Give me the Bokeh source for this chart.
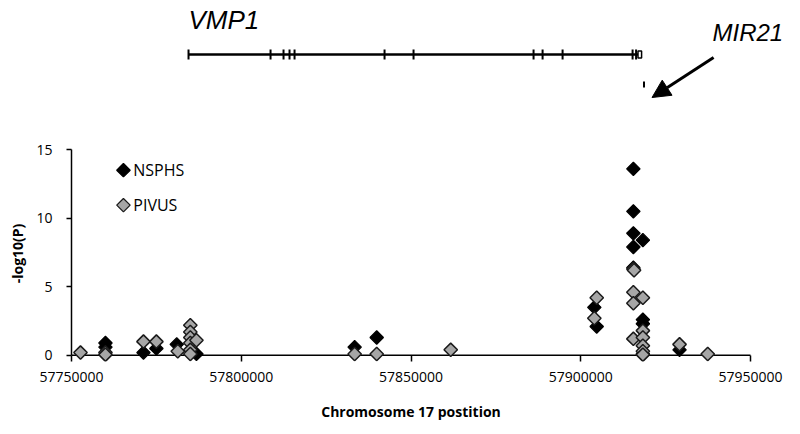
from bokeh.plotting import figure
from bokeh.layouts import column
from bokeh.models import Range1d, FixedTicker, NumeralTickFormatter, Arrow, NormalHead, Label
from bokeh.core.properties import value
from bokeh.embed import file_html
from bokeh.resources import INLINE
import numpy as np

# ---------------- data ----------------
nsphs_pos = [57760000, 57760000, 57771200, 57775000, 57781000, 57786800,
             57833400, 57839900, 57904000, 57904700,
             57915500, 57915500, 57915500, 57915500, 57915500,
             57918300, 57918300, 57918300, 57918300, 57929100]
nsphs_val = [0.9, 0.6, 0.2, 0.5, 0.8, 0.1,
             0.6, 1.3, 3.5, 2.1,
             13.6, 10.5, 8.9, 7.9, 6.4,
             8.4, 2.6, 2.3, 0.1, 0.4]

pivus_pos = [57752650, 57760000, 57760000, 57771200, 57775000, 57781300,
             57785000, 57785000, 57785000, 57785000, 57785000, 57785000, 57786800,
             57833400, 57839900, 57861700, 57904700, 57904000,
             57915500, 57915500, 57915500, 57915500, 57915700,
             57918300, 57918300, 57918300, 57918300, 57918300, 57918300,
             57929100, 57937400]
pivus_val = [0.2, 0.2, 0.05, 1.0, 1.0, 0.3,
             2.2, 1.7, 1.3, 0.9, 0.4, 0.1, 1.1,
             0.1, 0.1, 0.4, 4.2, 2.7,
             6.3, 4.6, 3.8, 1.2, 6.2,
             4.2, 1.8, 1.3, 0.7, 0.3, 0.05,
             0.8, 0.1]

series_names = ["NSPHS", "PIVUS"]
x_ticks = [57750000, 57800000, 57850000, 57900000, 57950000]
y_ticks = [0, 5, 10, 15]
x_title = "Chromosome 17 postition"
y_title = "-log10(P)"

# gene model (genomic coordinates)
vmp1_start = 57784470
vmp1_end = 57916860
vmp1_exons = [57784470, 57808630, 57812455, 57814220, 57815700, 57842210,
              57850750, 57886100, 57888760, 57894650, 57915270, 57916300]
vmp1_utr = [57916860, 57917920]
mir21_pos = 57918630

FONT = "Open Sans"
BLACK_FILL, GREY_FILL = "black", "#a6a6a6"

x_start, x_end = x_ticks[0], x_ticks[-1]
# frame runs 729 px (to the right edge); the axis itself spans 679 px
x_range = Range1d(x_start, x_start + (x_end - x_start) * 729 / 679)


def bare(fig):
    fig.axis.visible = False
    fig.grid.visible = False
    fig.outline_line_color = None


# ---------------- gene track ----------------
top = figure(width=800, height=130, x_range=x_range, y_range=Range1d(0, 130),
             output_backend="svg", toolbar_location=None,
             min_border_left=71, min_border_right=0, min_border_top=0, min_border_bottom=0)
bare(top)

row_y = 76
top.segment(x0=[vmp1_start], y0=[row_y], x1=[vmp1_end], y1=[row_y], line_color="black", line_width=2.5)
top.segment(x0=vmp1_exons, y0=[row_y - 5] * len(vmp1_exons), x1=vmp1_exons,
            y1=[row_y + 5] * len(vmp1_exons), line_color="black", line_width=2)
top.quad(left=[vmp1_utr[0]], right=[vmp1_utr[1]], bottom=[row_y - 3.5], top=[row_y + 3.5],
         fill_color="white", line_color="black", line_width=1.5)
top.segment(x0=[mir21_pos], y0=[43], x1=[mir21_pos], y1=[49], line_color="black", line_width=2)

top.add_layout(Label(x=vmp1_start, y=111, text="VMP1", text_font="Liberation Sans",
                     text_font_size="26px", text_font_style="italic", text_baseline="middle",
                     text_align="left", text_color="black"))
top.add_layout(Label(x=57938800, y=98, text="MIR21", text_font="Liberation Sans",
                     text_font_size="24px", text_font_style="italic", text_baseline="middle",
                     text_align="left", text_color="black"))
top.add_layout(Arrow(x_start=57939130, y_start=73, x_end=57921000, y_end=33,
                     line_color="black", line_width=3,
                     end=NormalHead(size=18, fill_color="black", line_color="black")))

# ---------------- scatter ----------------
p = figure(width=800, height=265, x_range=x_range, y_range=Range1d(-0.45, 15.3),
           output_backend="svg", toolbar_location=None,
           min_border_left=71, min_border_right=0, min_border_top=15, min_border_bottom=34)
p.grid.visible = False
p.outline_line_color = None

# x axis line at y = 0
p.segment(x0=[x_start], y0=[0], x1=[x_end], y1=[0], line_color="black", line_width=1.5)

p.scatter(nsphs_pos, nsphs_val, marker="square", angle=np.pi / 4, size=9.5,
          fill_color=BLACK_FILL, line_color="black", line_width=1.2)
p.scatter(pivus_pos, pivus_val, marker="square", angle=np.pi / 4, size=9.5,
          fill_color=GREY_FILL, line_color="#1a1a1a", line_width=1.5)

# legend (drawn by hand so markers match the rotated squares)
leg_x = 57765300
leg_y = [13.5, 10.95]
p.scatter([leg_x, leg_x], leg_y, marker="square", angle=np.pi / 4, size=9.5,
          fill_color=[BLACK_FILL, GREY_FILL], line_color=["black", "#1a1a1a"], line_width=1.3)
p.text(x=[leg_x + 2900] * 2, y=leg_y, text=series_names, text_font=value(FONT),
       text_font_size="16px", text_baseline="middle", text_align="left", text_color="black")

p.xaxis.ticker = FixedTicker(ticks=x_ticks)
p.xaxis.formatter = NumeralTickFormatter(format="0")
p.xaxis.bounds = (x_start, x_end)
p.yaxis.ticker = FixedTicker(ticks=y_ticks)
p.yaxis.bounds = (y_ticks[0], y_ticks[-1])
for ax in (p.xaxis[0], p.yaxis[0]):
    ax.axis_line_color = "black"
    ax.axis_line_width = 1.5
    ax.major_tick_line_color = "black"
    ax.major_tick_line_width = 1.5
    ax.minor_tick_line_color = None
    ax.major_label_text_font = FONT
    ax.major_label_text_font_size = "14px"
    ax.major_label_text_color = "black"
    ax.axis_label_text_font = FONT
    ax.axis_label_text_font_size = "14px"
    ax.axis_label_text_font_style = "bold"
    ax.axis_label_text_color = "black"
p.xaxis.axis_line_color = None
p.xaxis.major_tick_in = 6
p.xaxis.major_tick_out = 0
p.yaxis.major_tick_in = 0
p.yaxis.major_tick_out = 5
p.yaxis.axis_label = y_title
p.xaxis.major_label_standoff = 10
p.yaxis.major_label_standoff = 14
p.yaxis.axis_label_standoff = 6

# ---------------- x-axis title strip (centred under the axis, not the frame) ----------------
bottom = figure(width=800, height=32, x_range=x_range, y_range=Range1d(0, 32),
                output_backend="svg", toolbar_location=None,
                min_border_left=71, min_border_right=0, min_border_top=0, min_border_bottom=0)
bare(bottom)
bottom.text(x=[(x_start + x_end) / 2], y=[16], text=[x_title], text_font=value(FONT),
            text_font_size="14px", text_font_style="bold", text_align="center",
            text_baseline="middle", text_color="black")

layout = column(top, p, bottom, spacing=0)
open("out.html", "w").write(file_html(layout, INLINE))
